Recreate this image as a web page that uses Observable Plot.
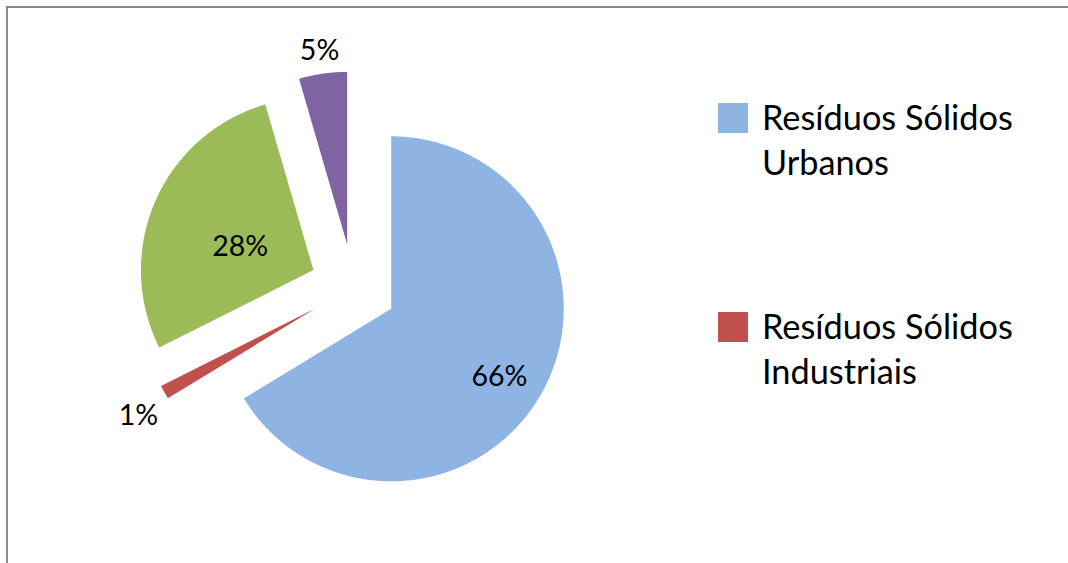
<!DOCTYPE html>
<html>
<head>
<meta charset="utf-8">
<script src="https://cdn.jsdelivr.net/npm/d3@7"></script>
<script src="https://cdn.jsdelivr.net/npm/@observablehq/plot@0.6"></script>
<style>
  html, body { margin: 0; padding: 0; background: #fff; overflow: hidden; }
  #wrap { position: relative; width: 1068px; height: 563px; overflow: hidden; font-family: Lato, "Open Sans", sans-serif; }
  #wrap svg { position: absolute; left: 0; top: 0; }
  #border { position: absolute; left: 6px; top: 6px; width: 1200px; height: 700px; border-left: 2px solid #8a8a8a; border-top: 2px solid #8a8a8a; }
  .leg { position: absolute; left: 718px; display: flex; align-items: flex-start; }
  .sw { width: 30px; height: 30px; margin-top: 9px; flex: none; }
  .lt { margin-left: 14px; font-size: 34.3px; line-height: 45px; color: #000; white-space: nowrap; }
</style>
</head>
<body>
<div id="wrap"><div id="border"></div></div>
<script>
// ---- data ----
const categories = ["Resíduos Sólidos Urbanos", "Resíduos Sólidos Industriais", "Categoria 3", "Categoria 4"];
const values = [66.3, 1.3, 27.9, 4.5];
const labels = ["66%", "1%", "28%", "5%"];
const colors = ["#8EB4E3", "#C0504D", "#9BBB59", "#8064A2"];
const legendCount = 2; // only the first two entries are visible in the legend

// ---- layout ----
const W = 1068, H = 563;
const cx = 352.8, cy = 287, R = 172.5, explode = 43.5;
const labelRadius = [0.74, 1.2, 0.446, 1.136];
const labelAngleShift = [2.7, -2.3, -6, 0]; // degrees

const arcs = d3.pie().sort(null).value(d => d)(values);
const slicePts = [];
const labelPts = [];
arcs.forEach((a, i) => {
  const mid = (a.startAngle + a.endAngle) / 2;
  const vx = cx + explode * Math.sin(mid), vy = cy - explode * Math.cos(mid);
  const name = categories[i];
  slicePts.push({name, x: vx, y: vy});
  const n = Math.max(4, Math.ceil((a.endAngle - a.startAngle) / (Math.PI / 360)));
  for (let k = 0; k <= n; k++) {
    const t = a.startAngle + (a.endAngle - a.startAngle) * k / n;
    slicePts.push({name, x: vx + R * Math.sin(t), y: vy - R * Math.cos(t)});
  }
  slicePts.push({name, x: vx, y: vy});
  const lr = labelRadius[i] * R;
  const la = mid + labelAngleShift[i] * Math.PI / 180;
  labelPts.push({label: labels[i], x: vx + lr * Math.sin(la), y: vy - lr * Math.cos(la)});
});

const chart = Plot.plot({
  width: W, height: H,
  margin: 0,
  x: {domain: [0, W], range: [0, W], axis: null},
  y: {domain: [0, H], range: [0, H], axis: null},
  color: {domain: categories, range: colors},
  style: {fontFamily: "Lato, 'Open Sans', sans-serif", background: "transparent"},
  marks: [
    Plot.line(slicePts, {x: "x", y: "y", z: "name", fill: "name", stroke: "none", curve: "linear"}),
    Plot.text(labelPts, {x: "x", y: "y", text: "label", fontSize: 28.5, fill: "#000"})
  ]
});
const wrap = document.getElementById("wrap");
wrap.appendChild(chart);

// legend
const legTops = [94, 303];
categories.slice(0, legendCount).forEach((c, i) => {
  const d = document.createElement("div");
  d.className = "leg";
  d.style.top = legTops[i] + "px";
  const sw = document.createElement("div");
  sw.className = "sw";
  sw.style.background = colors[i];
  const t = document.createElement("div");
  t.className = "lt";
  const words = c.split(" ");
  t.innerHTML = words.slice(0, 2).join(" ") + "<br>" + words.slice(2).join(" ");
  d.appendChild(sw); d.appendChild(t);
  wrap.appendChild(d);
});
</script>
</body>
</html>
